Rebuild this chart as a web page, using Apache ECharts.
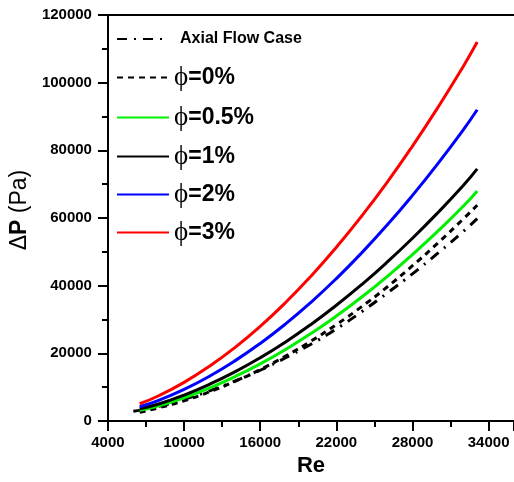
<!DOCTYPE html>
<html>
<head>
<meta charset="utf-8">
<script src="https://cdn.jsdelivr.net/npm/echarts@6/dist/echarts.min.js"></script>
<style>
  html, body { margin: 0; padding: 0; background: #fff; }
  #chart { width: 514px; height: 482px; }
</style>
</head>
<body>
<div id="chart"></div>
<script>
// Reynolds numbers sampled along each curve
const reAxial = [6000, 8000, 10000, 12000, 14000, 16000, 18000, 20000, 22000, 24000, 26000, 28000, 30000, 32000, 33100];
const reNano  = [6500, 8000, 10000, 12000, 14000, 16000, 18000, 20000, 22000, 24000, 26000, 28000, 30000, 32000, 33100];

// Pressure drop (Pa)
const dpAxial  = [2900, 4300, 6400, 8900, 11800, 15000, 18700, 22700, 27200, 32300, 37800, 43500, 49600, 56000, 59800];
const dpPhi0   = [2600, 3900, 6000, 8600, 11700, 15200, 19200, 23600, 28500, 33800, 39600, 45900, 52600, 59700, 63800];
const dpPhi05  = [3150, 4490, 6880, 9750, 13090, 16890, 21150, 25860, 31030, 36640, 42680, 49190, 56110, 63470, 68000];
const dpPhi1   = [3600, 5020, 7670, 10840, 14510, 18700, 23370, 28540, 34200, 40330, 46940, 54020, 61570, 69580, 74500];
const dpPhi2   = [4200, 6110, 9350, 13240, 17770, 22930, 28700, 35090, 42100, 49710, 57900, 66700, 76080, 86050, 92000];
const dpPhi3   = [5100, 7470, 11430, 16180, 21700, 27980, 35020, 42810, 51330, 60590, 70550, 81270, 92680, 104800, 112000];

const seriesNames = ['Axial Flow Case', 'φ=0%', 'φ=0.5%', 'φ=1%', 'φ=2%', 'φ=3%'];
const xTicks = { min: 4000, max: 36000, step: 6000 };
const yTicks = { min: 0, max: 120000, step: 20000 };

const pairs = (xs, ys) => xs.map((x, i) => [x, ys[i]]);

const font = 'Arial, "Liberation Sans", sans-serif';

const lineDefs = [
  { name: seriesNames[0], data: pairs(reAxial, dpAxial), color: '#000', type: [10, 7, 2, 7] },
  { name: seriesNames[1], data: pairs(reNano, dpPhi0),  color: '#000', type: [6, 5] },
  { name: seriesNames[2], data: pairs(reNano, dpPhi05), color: '#00f000', type: 'solid' },
  { name: seriesNames[3], data: pairs(reNano, dpPhi1),  color: '#000', type: 'solid' },
  { name: seriesNames[4], data: pairs(reNano, dpPhi2),  color: '#0000ff', type: 'solid' },
  { name: seriesNames[5], data: pairs(reNano, dpPhi3),  color: '#ff0000', type: 'solid' }
];

const legendCenters = [44, 77, 117, 156, 194, 232];

const legends = seriesNames.map((name, i) => ({
  data: [name],
  left: 116,
  top: legendCenters[i] - 13,
  padding: 0,
  itemWidth: 52,
  itemHeight: 14,
  selectedMode: false,
  itemStyle: { opacity: 0 },
  formatter: n => {
    // straight-stroke phi glyph
    if (n.startsWith('φ')) return '{p|ϕ}{t|' + n.slice(1) + '}';
    return '{a|' + n + '}';
  },
  textStyle: {
    rich: {
      p: { fontFamily: '"Liberation Serif", serif', fontSize: 27, color: '#000', lineHeight: 26 },
      t: { fontFamily: font, fontWeight: 'bold', fontSize: 23, color: '#000', lineHeight: 26 },
      a: { fontFamily: font, fontWeight: 'bold', fontSize: 16, color: '#000', lineHeight: 26, padding: [0, 0, 0, 6] }
    }
  }
}));

const plain = v => String(v);

const chart = echarts.init(document.getElementById('chart'), null, { renderer: 'canvas' });

chart.setOption({
  backgroundColor: '#fff',
  animation: false,
  legend: legends,
  grid: { left: 107, top: 15, width: 409, bottom: 58, containLabel: false },
  xAxis: [
    {
      type: 'value',
      min: xTicks.min,
      max: xTicks.max,
      interval: xTicks.step,
      name: 'Re',
      nameLocation: 'middle',
      nameGap: 34,
      nameTextStyle: { fontFamily: font, fontWeight: 'bold', fontSize: 22, color: '#000' },
      axisLine: { lineStyle: { color: '#000', width: 2 } },
      axisTick: { inside: false, length: 10, lineStyle: { color: '#000', width: 2 } },
      minorTick: { show: true, splitNumber: 2, length: 6, lineStyle: { color: '#000', width: 2 } },
      axisLabel: {
        fontFamily: font, fontWeight: 'bold', fontSize: 15, color: '#000', margin: 14,
        showMaxLabel: false, formatter: plain
      },
      splitLine: { show: false }
    },
    {
      type: 'value',
      position: 'top',
      min: xTicks.min,
      max: xTicks.max,
      axisLine: { lineStyle: { color: '#000', width: 2 } },
      axisTick: { show: false },
      axisLabel: { show: false },
      splitLine: { show: false }
    }
  ],
  yAxis: {
    type: 'value',
    min: yTicks.min,
    max: yTicks.max,
    interval: yTicks.step,
    name: '{d|Δ}{b|P}{r| (Pa)}',
    nameLocation: 'middle',
    nameGap: 59,
    nameTextStyle: {
      padding: [0, 0, 0, 16],
      rich: {
        d: { fontFamily: '"Liberation Sans", sans-serif', fontSize: 23, color: '#000' },
        b: { fontFamily: font, fontWeight: 'bold', fontSize: 23, color: '#000' },
        r: { fontFamily: font, fontSize: 23, color: '#000' }
      }
    },
    axisLine: { lineStyle: { color: '#000', width: 2 } },
    axisTick: { inside: false, length: 10, lineStyle: { color: '#000', width: 2 } },
    minorTick: { show: true, splitNumber: 2, length: 6, lineStyle: { color: '#000', width: 2 } },
    axisLabel: { fontFamily: font, fontWeight: 'bold', fontSize: 15, color: '#000', margin: 16, formatter: plain },
    splitLine: { show: false }
  },
  series: lineDefs.map(d => ({
    name: d.name,
    type: 'line',
    xAxisIndex: 0,
    data: d.data,
    smooth: true,
    symbol: 'none',
    lineStyle: { color: d.color, width: 3, type: d.type },
    itemStyle: { color: d.color }
  }))
});
</script>
</body>
</html>
